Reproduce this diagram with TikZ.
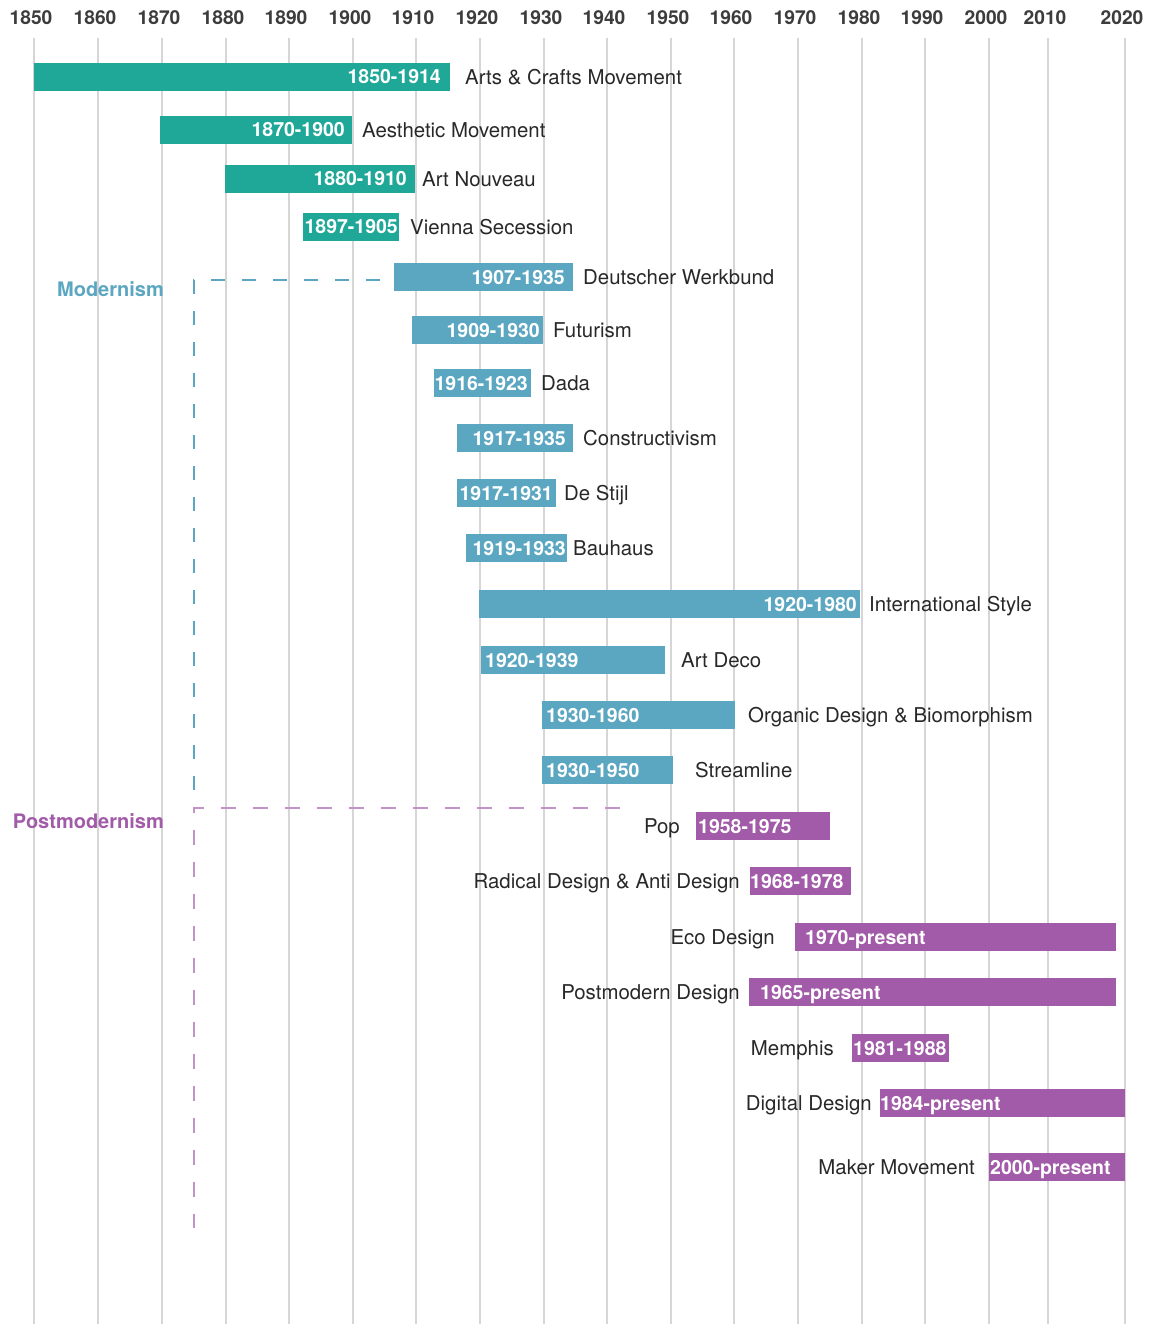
\documentclass[tikz,border=0pt]{standalone}
\usepackage{fontspec}
\setmainfont{TeX Gyre Heros}
\usepackage{tikz}
\definecolor{craftgreen}{RGB}{31,167,151}
\definecolor{modblue}{RGB}{91,166,193}
\definecolor{postpurple}{RGB}{161,91,168}
\definecolor{gridgray}{RGB}{214,214,214}
\definecolor{textdark}{RGB}{40,40,40}
\definecolor{yeargray}{RGB}{60,60,60}
\usetikzlibrary{positioning}

\begin{document}
\begin{tikzpicture}[x=1pt, y=-1pt,   %Pixelraster, y nach unten
	gridline/.style={draw=gridgray, line width=1.5pt},
	year/.style={text=yeargray, font=\bfseries\fontsize{19.2}{22}\selectfont, inner sep=0pt},
	bar/.style={anchor=west, minimum height=28pt, inner sep=0pt, outer sep=0pt},
	datel/.style={text=white, font=\bfseries\fontsize{19.5}{22}\selectfont, inner sep=0pt, text height=14pt, text depth=0pt},
	namel/.style={text=textdark, font=\fontsize{20.4}{24}\selectfont, inner sep=0pt, text height=14.6pt, text depth=0pt},
	grouplabel/.style={font=\bfseries\fontsize{20}{24}\selectfont, inner sep=0pt, anchor=east, text height=14.4pt, text depth=0pt},
	moddash/.style={draw=modblue, line width=1.5pt, dash pattern=on 14pt off 17pt},
	postdash/.style={draw=postpurple!65, line width=1.5pt, dash pattern=on 15pt off 17pt}]
	\useasboundingbox (0,0) rectangle (1150,1324);
	% Jahresraster
	\foreach \x/\yr in {34/1850, 98/1860, 162/1870, 226/1880, 289/1890, 353/1900, 416/1910, 480/1920, 544/1930,
		607/1940, 671/1950, 734/1960, 798/1970, 862/1980, 925/1990, 989/2000, 1048/2010, 1125/2020} {
		\draw[gridline] (\x,38) -- (\x,1324);
		\node[year] (y\yr) at ({\x-3},18) {\yr};
	}
	% Klammern Modernism / Postmodernism
	\coordinate (modtop) at (380,280);
	\coordinate (modcorner) at (194,280);
	\coordinate (modend) at (194,792);
	\draw[moddash] (modtop) -- (modcorner) -- (modend);
	\coordinate (posttop) at (620,808);
	\coordinate (postcorner) at (194,808);
	\coordinate (postend) at (194,1228);
	\draw[postdash] (posttop) -- (postcorner) -- (postend);
	\node[grouplabel, text=modblue] (modern) at (164,289) {Modernism};
	\node[grouplabel, text=postpurple] (postmodern) at (164,821) {Postmodernism};
	% fruehe Bewegungen
	\node[bar, fill=craftgreen, minimum width=416pt] (arts) at (34,77) {};
	\node[datel, anchor=east] (artsd) at (441,77) {1850-1914};
	\node[namel, anchor=west] (artsn) at (465,77) {Arts \& Crafts Movement};
	\node[bar, fill=craftgreen, minimum width=192pt] (aesth) at (160,130) {};
	\node[datel, anchor=east] (aesthd) at (345,130) {1870-1900};
	\node[namel, anchor=west] (aesthn) at (362,130) {Aesthetic Movement};
	\node[bar, fill=craftgreen, minimum width=190pt] (nouveau) at (225,179) {};
	\node[datel, anchor=east] (nouveaud) at (407,179) {1880-1910};
	\node[namel, anchor=west] (nouveaun) at (422,179) {Art Nouveau};
	\node[bar, fill=craftgreen, minimum width=96pt] (vienna) at (303,227) {};
	\node[datel, anchor=east] (viennad) at (398,227) {1897-1905};
	\node[namel, anchor=west] (viennan) at (410,227) {Vienna Secession};
	% Modernism
	\node[bar, fill=modblue, minimum width=179pt] (werkbund) at (394,277) {};
	\node[datel, anchor=east] (werkbundd) at (565,277) {1907-1935};
	\node[namel, anchor=west] (werkbundn) at (583,277) {Deutscher Werkbund};
	\node[bar, fill=modblue, minimum width=131pt] (futur) at (412,330) {};
	\node[datel, anchor=east] (furturd) at (540,330) {1909-1930};
	\node[namel, anchor=west] (futurn) at (553,330) {Futurism};
	\node[bar, fill=modblue, minimum width=97pt] (dada) at (434,383) {};
	\node[datel, anchor=east] (dadad) at (528,383) {1916-1923};
	\node[namel, anchor=west] (dadan) at (541,383) {Dada};
	\node[bar, fill=modblue, minimum width=116pt] (constr) at (457,438) {};
	\node[datel, anchor=east] (constrd) at (566,438) {1917-1935};
	\node[namel, anchor=west] (constrn) at (583,438) {Constructivism};
	\node[bar, fill=modblue, minimum width=99pt] (stijl) at (457,493) {};
	\node[datel, anchor=east] (stijld) at (553,493) {1917-1931};
	\node[namel, anchor=west] (stijln) at (564,493) {De Stijl};
	\node[bar, fill=modblue, minimum width=101pt] (bauhaus) at (466,548) {};
	\node[datel, anchor=east] (bauhausd) at (566,548) {1919-1933};
	\node[namel, anchor=west] (bauhausn) at (573,548) {Bauhaus};
	\node[bar, fill=modblue, minimum width=381pt] (intl) at (479,604) {};
	\node[datel, anchor=east] (intld) at (857,604) {1920-1980};
	\node[namel, anchor=west] (intln) at (869,604) {International Style};
	\node[bar, fill=modblue, minimum width=184pt] (deco) at (481,660) {};
	\node[datel, anchor=west] (decod) at (485,660) {1920-1939};
	\node[namel, anchor=west] (decon) at (681,660) {Art Deco};
	\node[bar, fill=modblue, minimum width=193pt] (organic) at (542,715) {};
	\node[datel, anchor=west] (organicd) at (546,715) {1930-1960};
	\node[namel, anchor=west] (organicn) at (748,715) {Organic Design \& Biomorphism};
	\node[bar, fill=modblue, minimum width=131pt] (stream) at (542,770) {};
	\node[datel, anchor=west] (streamd) at (546,770) {1930-1950};
	\node[namel, anchor=west] (streamn) at (695,770) {Streamline};
	% Postmodernism
	\node[bar, fill=postpurple, minimum width=134pt] (pop) at (696,826) {};
	\node[datel, anchor=west] (popd) at (698,826) {1958-1975};
	\node[namel, anchor=east] (popn) at (680,826) {Pop};
	\node[bar, fill=postpurple, minimum width=101pt] (radical) at (750,881) {};
	\node[datel, anchor=west] (radicald) at (750,881) {1968-1978};
	\node[namel, anchor=east] (radicaln) at (740,881) {Radical Design \& Anti Design};
	\node[bar, fill=postpurple, minimum width=321pt] (eco) at (795,937) {};
	\node[datel, anchor=west] (ecod) at (805,937) {1970-present};
	\node[namel, anchor=east] (econ) at (775,937) {Eco Design};
	\node[bar, fill=postpurple, minimum width=367pt] (pmd) at (749,992) {};
	\node[datel, anchor=west] (pmdd) at (760,992) {1965-present};
	\node[namel, anchor=east] (pmdn) at (740,992) {Postmodern Design};
	\node[bar, fill=postpurple, minimum width=97pt] (memphis) at (852,1048) {};
	\node[datel, anchor=west] (memphisd) at (853,1048) {1981-1988};
	\node[namel, anchor=east] (memphisn) at (834,1048) {Memphis};
	\node[bar, fill=postpurple, minimum width=245pt] (digital) at (880,1103) {};
	\node[datel, anchor=west] (digitald) at (880,1103) {1984-present};
	\node[namel, anchor=east] (digitaln) at (872,1103) {Digital Design};
	\node[bar, fill=postpurple, minimum width=136pt] (maker) at (989,1167) {};
	\node[datel, anchor=west] (makerd) at (990,1167) {2000-present};
	\node[namel, anchor=east] (makern) at (975,1167) {Maker Movement};
\end{tikzpicture}
\end{document}
